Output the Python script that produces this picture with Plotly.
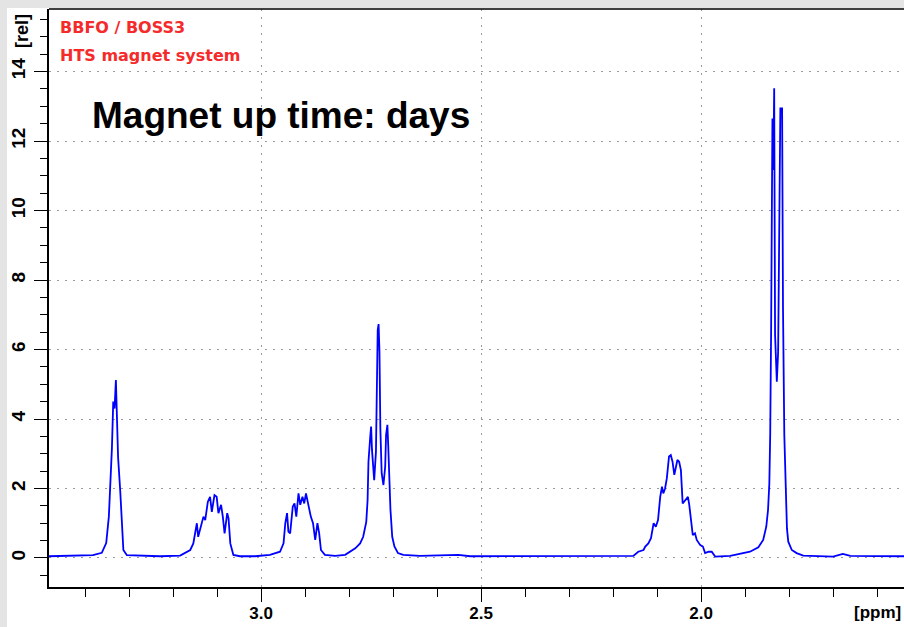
import plotly.graph_objects as go

# Spectrum (ppm, relative intensity)
ppm = [
    3.482, 3.434, 3.400, 3.382, 3.362, 3.352, 3.346, 3.342, 3.339, 3.336, 3.333, 3.330,
    3.328, 3.325, 3.320, 3.316, 3.313, 3.305, 3.275, 3.230, 3.184,
    3.161, 3.154, 3.148, 3.146, 3.143, 3.137, 3.131, 3.127, 3.121, 3.116, 3.112, 3.106,
    3.101, 3.097, 3.091, 3.087, 3.083, 3.077, 3.074, 3.070, 3.063, 3.048, 3.014,
    2.980, 2.957, 2.949, 2.945, 2.941, 2.938, 2.934, 2.928, 2.924, 2.920, 2.915, 2.911,
    2.906, 2.902, 2.898, 2.892, 2.887, 2.882, 2.877, 2.872, 2.868, 2.864, 2.855, 2.832,
    2.809, 2.786, 2.775, 2.768, 2.761, 2.758, 2.756, 2.752, 2.750, 2.748, 2.745, 2.743,
    2.739, 2.737, 2.735, 2.733, 2.731, 2.729, 2.726, 2.722, 2.718, 2.716, 2.713, 2.711,
    2.709, 2.706, 2.702, 2.697, 2.689, 2.677, 2.639, 2.570, 2.552, 2.525, 2.411, 2.275,
    2.184, 2.154, 2.143, 2.131, 2.127, 2.120, 2.114, 2.108, 2.103, 2.098, 2.093, 2.089,
    2.086, 2.082, 2.078, 2.073, 2.069, 2.065, 2.061, 2.058, 2.054, 2.050, 2.046, 2.042,
    2.036, 2.030, 2.027, 2.023, 2.019, 2.014, 2.010, 2.002, 1.996, 1.991, 1.983, 1.976,
    1.968, 1.934,
    1.911, 1.889, 1.870, 1.859, 1.852, 1.848, 1.845, 1.843, 1.841, 1.838, 1.836, 1.834,
    1.832, 1.828, 1.825, 1.823, 1.820, 1.816, 1.814, 1.811, 1.808, 1.805, 1.802, 1.794,
    1.783, 1.768, 1.700, 1.678, 1.661, 1.616, 1.539,
]
intensity = [
    0.05, 0.06, 0.07, 0.08, 0.15, 0.43, 1.19, 2.15, 3.17, 4.50, 4.30, 5.12,
    4.10, 2.90, 1.90, 0.80, 0.23, 0.08, 0.06, 0.05, 0.07,
    0.23, 0.42, 0.90, 1.00, 0.61, 0.90, 1.19, 1.09, 1.62, 1.76, 1.33, 1.81,
    1.76, 1.29, 1.53, 1.19, 0.71, 1.29, 1.14, 0.42, 0.09, 0.05, 0.05,
    0.09, 0.18, 0.42, 1.00, 1.29, 0.76, 0.71, 1.48, 1.57, 1.19, 1.86, 1.53,
    1.76, 1.57, 1.86, 1.48, 1.19, 1.00, 0.52, 1.00, 0.71, 0.23, 0.09, 0.06,
    0.09, 0.28, 0.42, 0.61, 1.04, 1.67, 2.77, 3.49, 3.78, 3.11, 2.34, 2.24,
    3.06, 4.83, 6.56, 6.73, 5.94, 3.73, 2.44, 2.10, 2.63, 3.54, 3.83, 3.20,
    2.15, 1.38, 0.61, 0.33, 0.14, 0.09, 0.06, 0.07, 0.09, 0.05, 0.05, 0.05,
    0.04, 0.06, 0.18, 0.23, 0.33, 0.42, 0.57, 1.00, 0.90, 1.09, 1.76, 2.05,
    1.86, 2.00, 2.29, 2.92, 2.96, 2.77, 2.39, 2.63, 2.82, 2.77, 2.53, 1.57,
    1.67, 1.76, 1.53, 1.09, 0.66, 0.71, 0.52, 0.37, 0.33, 0.14, 0.18, 0.18,
    0.04, 0.06,
    0.12, 0.18, 0.31, 0.52, 0.90, 1.38, 2.15, 3.59, 6.51, 12.65, 11.17, 13.52,
    6.42, 5.07, 5.94, 9.20, 12.94, 12.94, 7.23, 3.54, 1.81, 0.85, 0.47, 0.23,
    0.14, 0.07, 0.04, 0.12, 0.06, 0.05, 0.05,
]

x_tickvals = [3.0, 2.5, 2.0]
x_ticktext = ["3.0", "2.5", "2.0"]
y_tickvals = [0, 2, 4, 6, 8, 10, 12, 14]
y_ticktext = ["0", "2", "4", "6", "8", "10", "12", "14"]

W, H = 904, 627
L, R, T, B = 49, 0, 9, 40
PW, PH = W - L - R, H - T - B


def px(xp):
    return (xp - L) / PW


def py(yp):
    return (H - B - yp) / PH


fig = go.Figure()
fig.add_trace(go.Scatter(
    x=ppm, y=intensity, mode="lines",
    line=dict(color="#0000ff", width=1.8),
    hoverinfo="skip", showlegend=False,
))

grid = dict(showgrid=True, gridcolor="#9a9a9a", gridwidth=1, griddash="1.5px,6.5px")
y_font = dict(family="Liberation Sans, Arial", size=19, color="black")
x_font = dict(family="Liberation Sans, Arial", size=17, color="black")

fig.update_layout(
    width=W, height=H,
    margin=dict(l=L, r=R, t=T, b=B, pad=0, autoexpand=False),
    paper_bgcolor="#e4e4e4",
    plot_bgcolor="white",
    xaxis=dict(
        range=[3.482, 1.539], autorange=False, automargin=False,
        tickvals=x_tickvals, ticktext=["<b>%s</b>" % t for t in x_ticktext],
        ticks="outside", ticklen=13, tickwidth=1.2, tickcolor="black",
        minor=dict(dtick=0.1, tick0=0, ticks="outside", ticklen=8, tickwidth=1.2,
                   tickcolor="black", showgrid=False),
        showline=True, linecolor="black", linewidth=1.5,
        zeroline=False, tickfont=x_font, ticklabelstandoff=-3,
        **grid,
    ),
    yaxis=dict(
        range=[-0.835, 15.80], autorange=False, automargin=False,
        tickvals=y_tickvals, ticktext=["<b>%s</b>" % t for t in y_ticktext],
        ticks="outside", ticklen=13, tickwidth=1.2, tickcolor="black",
        minor=dict(dtick=0.5, tick0=0, ticks="outside", ticklen=7, tickwidth=1.2,
                   tickcolor="black", showgrid=False),
        showline=True, linecolor="black", linewidth=1.5,
        zeroline=False, tickfont=y_font, tickangle=-90, ticklabelstandoff=2,
        **grid,
    ),
    shapes=[
        dict(type="rect", xref="paper", yref="paper",
             x0=px(7), x1=px(W + 2), y0=py(H + 5), y1=py(8),
             fillcolor="white", line=dict(width=0), layer="below"),
        dict(type="line", xref="paper", yref="paper",
             x0=0, x1=1.01, y0=1, y1=1,
             line=dict(color="black", width=1.5)),
    ],
    annotations=[
        dict(text="<b>BBFO / BOSS3</b>", xref="paper", yref="paper",
             x=px(58), y=py(27), xanchor="left", yanchor="middle", showarrow=False,
             font=dict(family="DejaVu Sans", size=16, color="#f52a2a")),
        dict(text="<b>HTS magnet system</b>", xref="paper", yref="paper",
             x=px(58), y=py(55), xanchor="left", yanchor="middle", showarrow=False,
             font=dict(family="DejaVu Sans", size=16, color="#f52a2a")),
        dict(text="<b>Magnet up time: days</b>", xref="paper", yref="paper",
             x=px(90), y=py(116), xanchor="left", yanchor="middle", showarrow=False,
             font=dict(family="Liberation Sans, Arial", size=37, color="black")),
        dict(text="<b>[rel]</b>", xref="paper", yref="paper",
             x=px(22), y=py(31), xanchor="center", yanchor="middle", showarrow=False,
             textangle=-90,
             font=dict(family="Liberation Sans, Arial", size=18, color="black")),
        dict(text="<b>[ppm]</b>", xref="paper", yref="paper",
             x=px(903), y=py(612), xanchor="right", yanchor="middle", showarrow=False,
             font=dict(family="Liberation Sans, Arial", size=17, color="black")),
    ],
)

fig.write_html("out.html")
